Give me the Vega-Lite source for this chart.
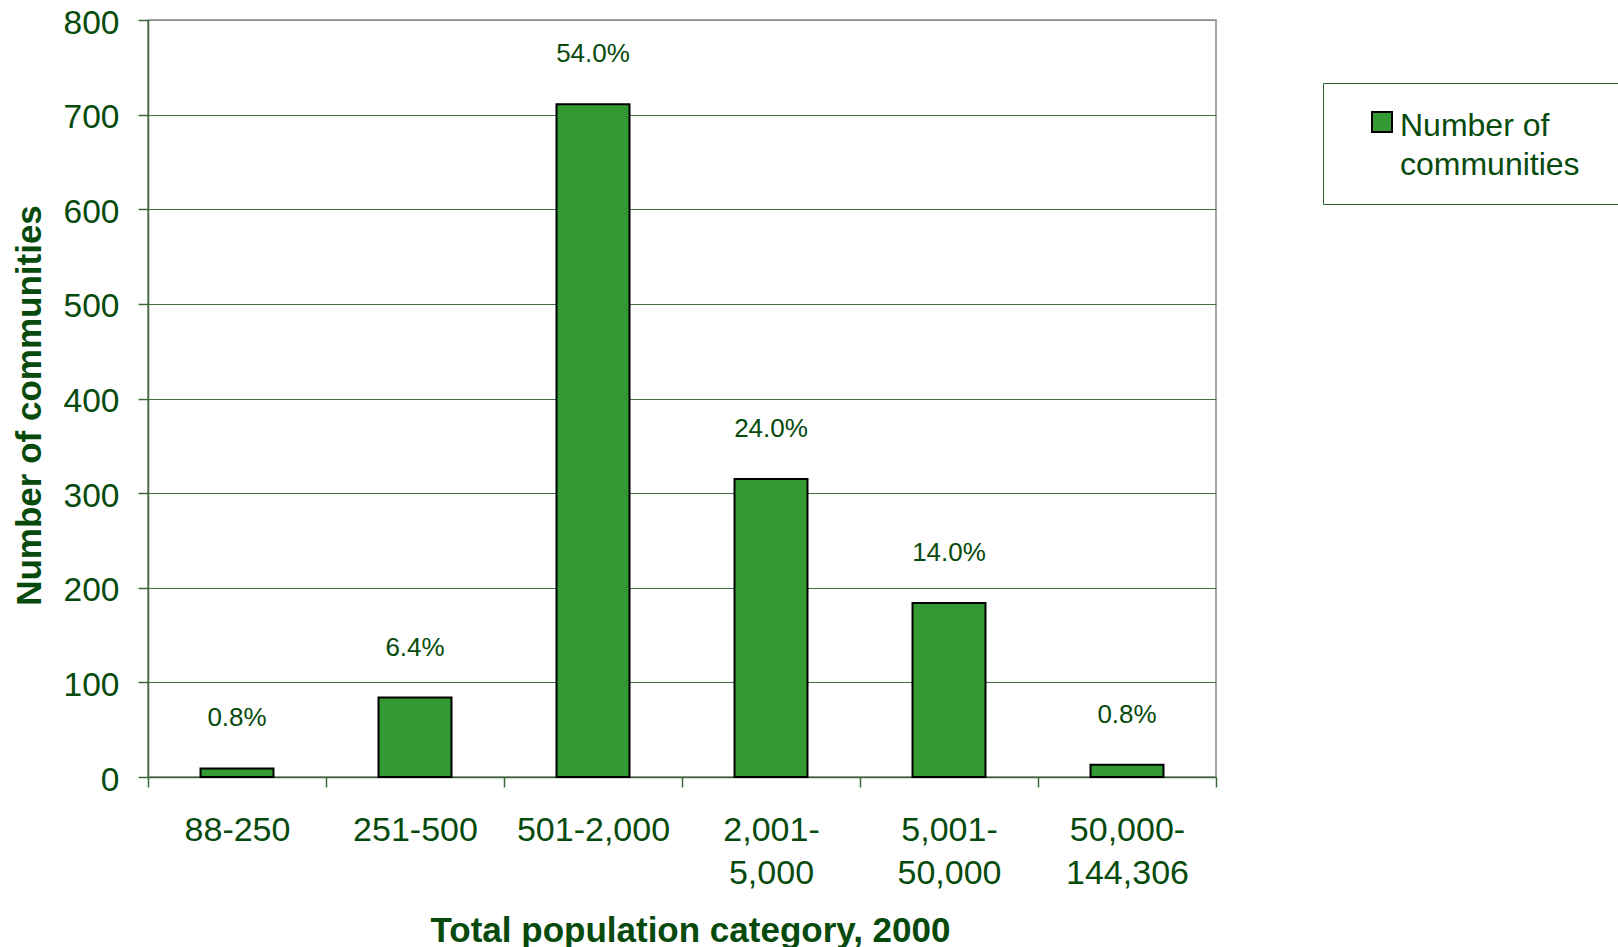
{
  "$schema": "https://vega.github.io/schema/vega-lite/v6.json",
  "width": 1068,
  "height": 757,
  "autosize": {"type": "none"},
  "padding": {"left": 148, "top": 20, "right": 402, "bottom": 170},
  "background": "white",
  "config": {
    "font": "Liberation Sans",
    "view": {"stroke": "#8a8a8a", "strokeWidth": 1.5},
    "axis": {
      "labelColor": "#064a0c",
      "titleColor": "#064a0c",
      "labelFont": "Liberation Sans",
      "titleFont": "Liberation Sans",
      "domainColor": "#3a6a3a",
      "tickColor": "#3a6a3a",
      "tickSize": 10,
      "domainWidth": 1.5,
      "tickWidth": 1.5
    }
  },
  "data": {
    "values": [
      {"category": "88-250", "communities": 9, "share": "0.8%", "series": "Number of communities"},
      {"category": "251-500", "communities": 84, "share": "6.4%", "series": "Number of communities"},
      {"category": "501-2,000", "communities": 711, "share": "54.0%", "series": "Number of communities"},
      {"category": "2,001-5,000", "communities": 315, "share": "24.0%", "series": "Number of communities"},
      {"category": "5,001-50,000", "communities": 184, "share": "14.0%", "series": "Number of communities"},
      {"category": "50,000-144,306", "communities": 13, "share": "0.8%", "series": "Number of communities"}
    ]
  },
  "encoding": {
    "x": {
      "field": "category",
      "type": "nominal",
      "sort": null,
      "scale": {"paddingInner": 0, "paddingOuter": 0},
      "axis": {
        "title": "Total population category, 2000",
        "titleFontSize": 35,
        "titleFontWeight": "bold",
        "titlePadding": 23,
        "titleX": 542,
        "labelFontSize": 34,
        "labelAngle": 0,
        "labelPadding": 26,
        "labelLineHeight": 43,
        "labelLimit": 400,
        "tickBand": "extent",
        "labelExpr": "length(datum.label) > 9 ? [slice(datum.label, 0, indexof(datum.label, '-') + 1), slice(datum.label, indexof(datum.label, '-') + 1)] : datum.label"
      }
    },
    "y": {
      "field": "communities",
      "type": "quantitative",
      "scale": {"domain": [0, 800], "nice": false},
      "axis": {
        "title": "Number of communities",
        "titleFontSize": 35,
        "titleFontWeight": "bold",
        "titlePadding": 16,
        "titleY": 385,
        "labelFontSize": 33.5,
        "labelPadding": 19,
        "labelOffset": 3,
        "values": [0, 100, 200, 300, 400, 500, 600, 700, 800],
        "grid": true,
        "gridColor": {"condition": {"test": "datum.value == 800", "value": "#8a8a8a"}, "value": "#3f6e3f"},
        "gridWidth": 1.2
      }
    }
  },
  "layer": [
    {
      "mark": {"type": "bar", "stroke": "black", "strokeWidth": 2, "width": {"band": 0.41}},
      "encoding": {
        "color": {
          "field": "series",
          "type": "nominal",
          "scale": {"range": ["#339933"]},
          "legend": {
            "title": null,
            "orient": "none",
            "legendX": 1175,
            "legendY": 63,
            "padding": 23,
            "strokeColor": "#2f5f2f",
            "fillColor": "white",
            "symbolType": "square",
            "symbolSize": 400,
            "symbolStrokeColor": "black",
            "symbolStrokeWidth": 2,
            "symbolOpacity": 1,
            "symbolOffset": 20,
            "labelOffset": 2,
            "labelFontSize": 32,
            "labelColor": "#064a0c",
            "labelLimit": 600,
            "labelExpr": "['Number of', 'communities\u2800']",
            "encode": {"labels": {"update": {"lineHeight": {"value": 39}, "dy": {"value": 4}}}}
          }
        }
      }
    },
    {
      "mark": {"type": "text", "dy": -50, "fontSize": 26, "color": "#064a0c", "baseline": "middle"},
      "encoding": {"text": {"field": "share"}}
    }
  ]
}
